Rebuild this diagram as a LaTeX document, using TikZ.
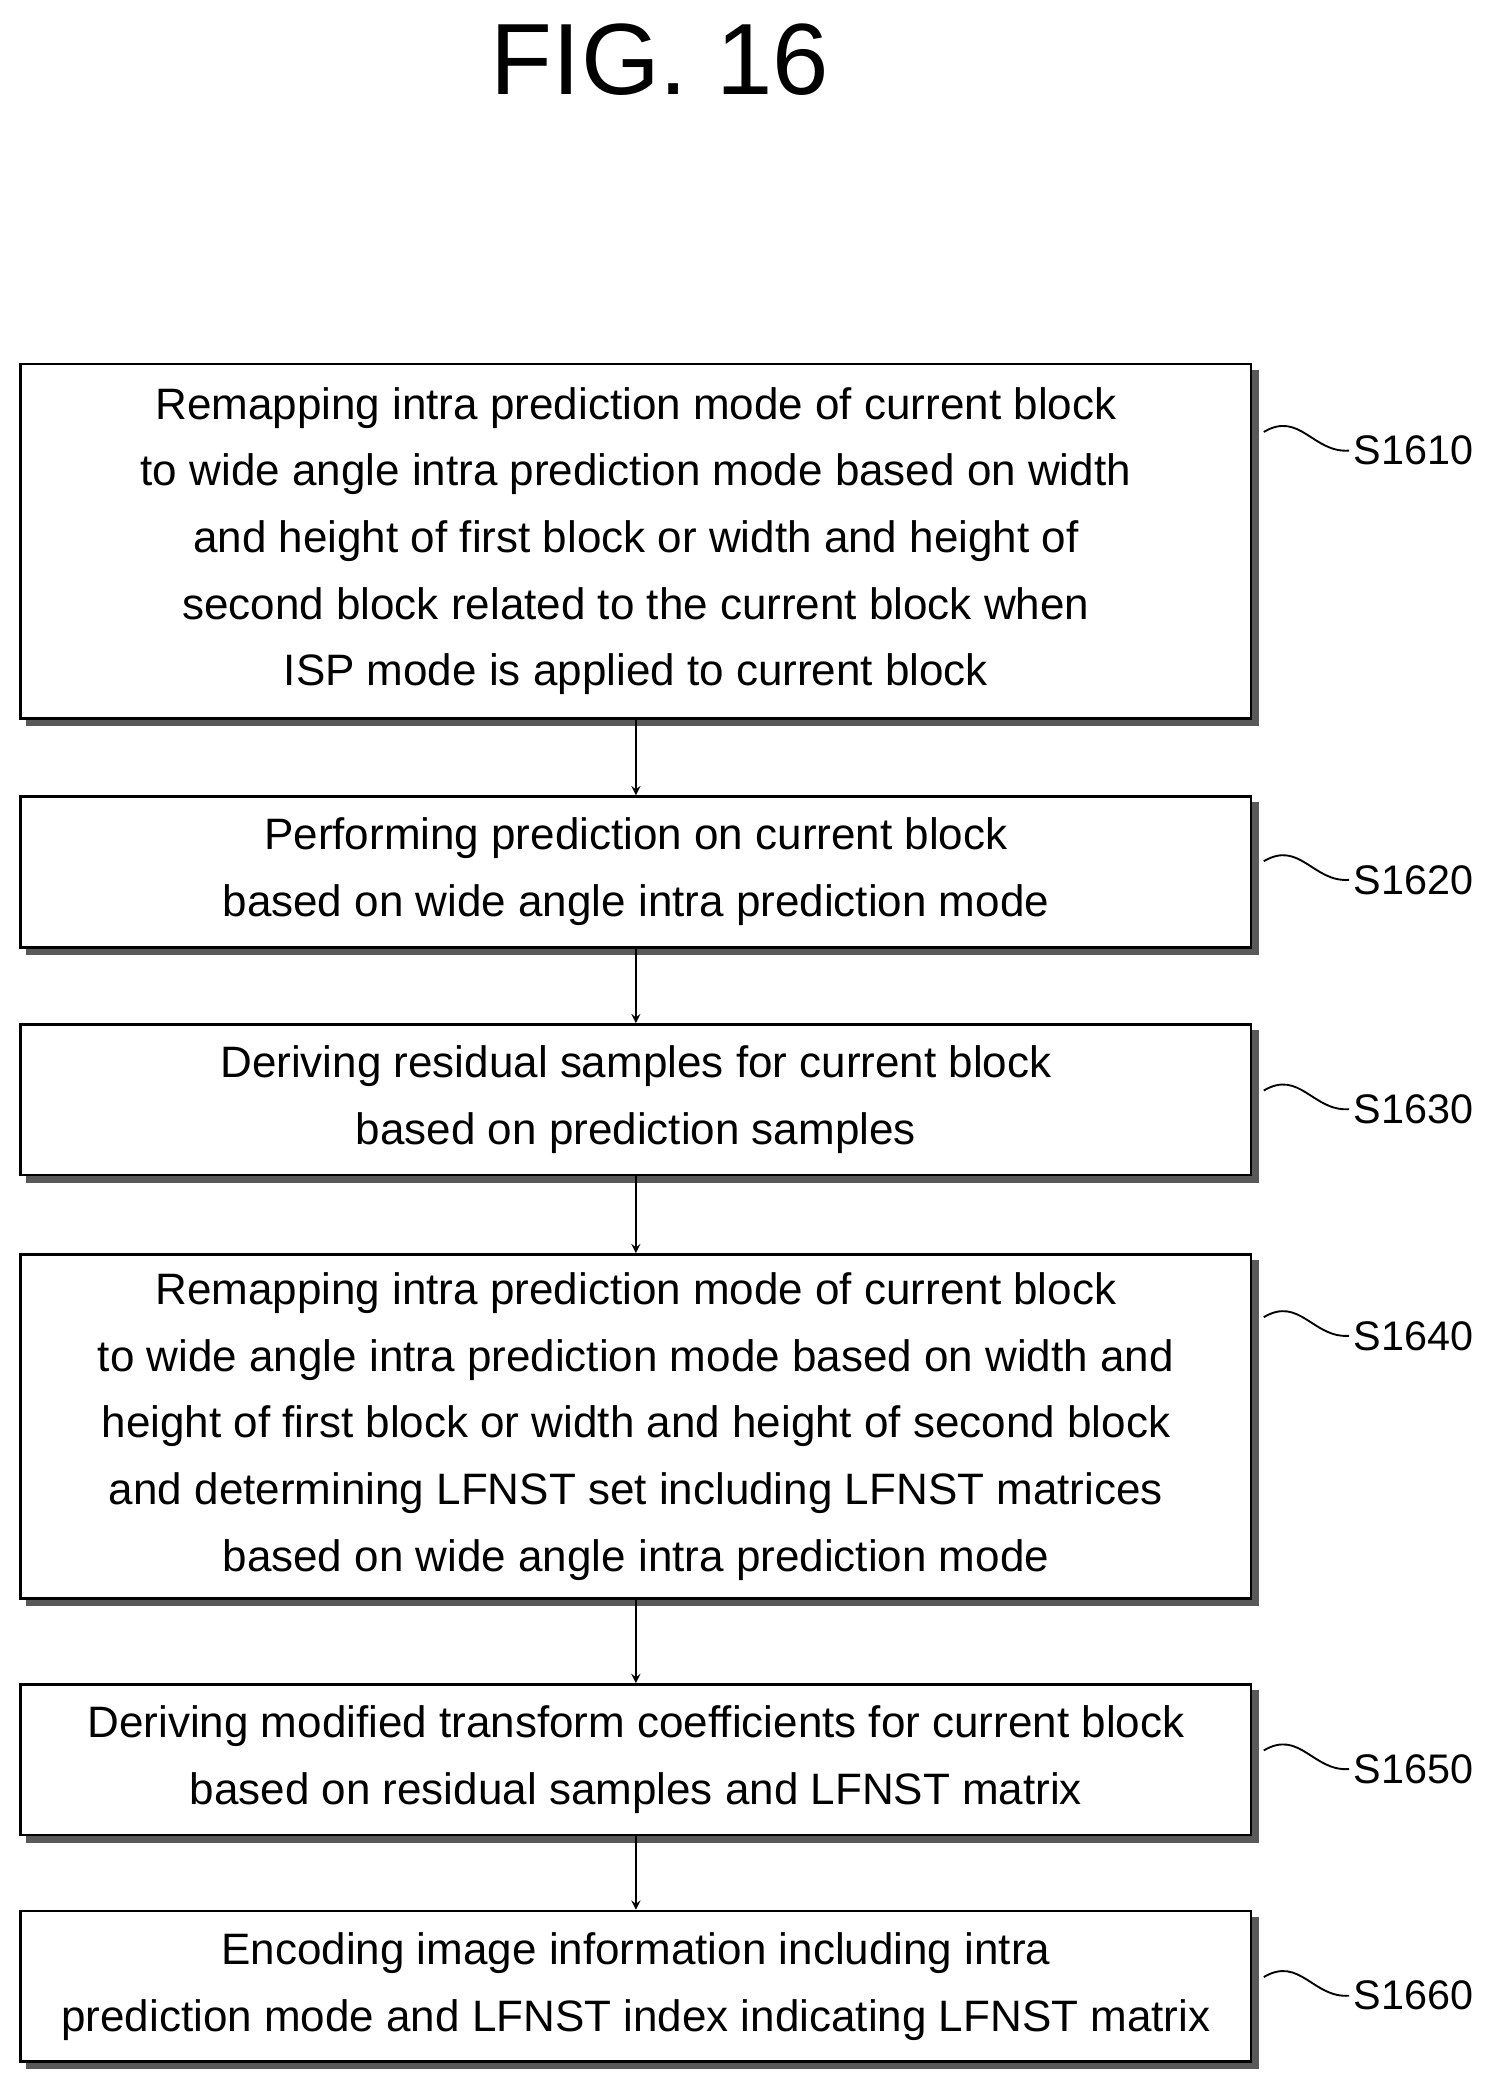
\documentclass[tikz,border=0pt]{standalone}
\usepackage{fontspec}
\setmainfont{Liberation Sans}
\usetikzlibrary{positioning}
\usetikzlibrary{shadows}
\tikzset{>=stealth}
\tikzset{
	stepbox/.style={draw=black,line width=2pt,fill=white,align=center,
		font=\fontsize{33}{50}\selectfont,inner sep=0pt,
		copy shadow={shadow xshift=5pt,shadow yshift=-5pt,draw=gray!70!black,fill=gray!70!black,line width=1.5pt}},
	lbl/.style={font=\fontsize{31}{34}\selectfont,anchor=west},
	flow/.style={->,line width=2pt},
	tie/.style={line width=1.4pt},
}
\begin{document}
\begin{tikzpicture}[x=1pt,y=-1pt]
	\useasboundingbox (0,0) rectangle (1115,1561);
	\node[font=\fontsize{76}{80}\selectfont] (title) at (495,45) {FIG. 16};
	
	% steps
	\node[stepbox,minimum width=923pt,minimum height=266pt] (s1) at (477,406) {Remapping intra prediction mode of current block\\to wide angle intra prediction mode based on width\\and height of first block or width and height of\\second block related to the current block when\\ISP mode is applied to current block};
	\node[stepbox,minimum width=923pt,minimum height=113pt] (s2) at (477,654) {Performing prediction on current block\\based on wide angle intra prediction mode};
	\node[stepbox,minimum width=923pt,minimum height=113pt] (s3) at (477,825) {Deriving residual samples for current block\\based on prediction samples};
	\node[stepbox,minimum width=923pt,minimum height=258pt] (s4) at (477,1070) {Remapping intra prediction mode of current block\\to wide angle intra prediction mode based on width and\\height of first block or width and height of second block\\and determining LFNST set including LFNST matrices\\based on wide angle intra prediction mode};
	\node[stepbox,minimum width=923pt,minimum height=113pt] (s5) at (477,1320) {Deriving modified transform coefficients for current block\\based on residual samples and LFNST matrix};
	\node[stepbox,minimum width=923pt,minimum height=113pt] (s6) at (477,1490) {Encoding image information including intra\\prediction mode and LFNST index indicating LFNST matrix};
	
	\draw[flow] (s1.south) -- (s2.north);
	\draw[flow] (s2.south) -- (s3.north);
	\draw[flow] (s3.south) -- (s4.north);
	\draw[flow] (s4.south) -- (s5.north);
	\draw[flow] (s5.south) -- (s6.north);
	
	% labels
	\foreach \n/\y in {S1610/338,S1620/660,S1630/832,S1640/1002,S1650/1327,S1660/1497}{
		\node[lbl] (l\n) at (1012,\y) {\n};
		\coordinate (c\n) at (948,\y-14);
		\draw[tie] (c\n) .. controls (975,\y-30) and (985,\y+2) .. (l\n.west);
	}
\end{tikzpicture}
\end{document}
